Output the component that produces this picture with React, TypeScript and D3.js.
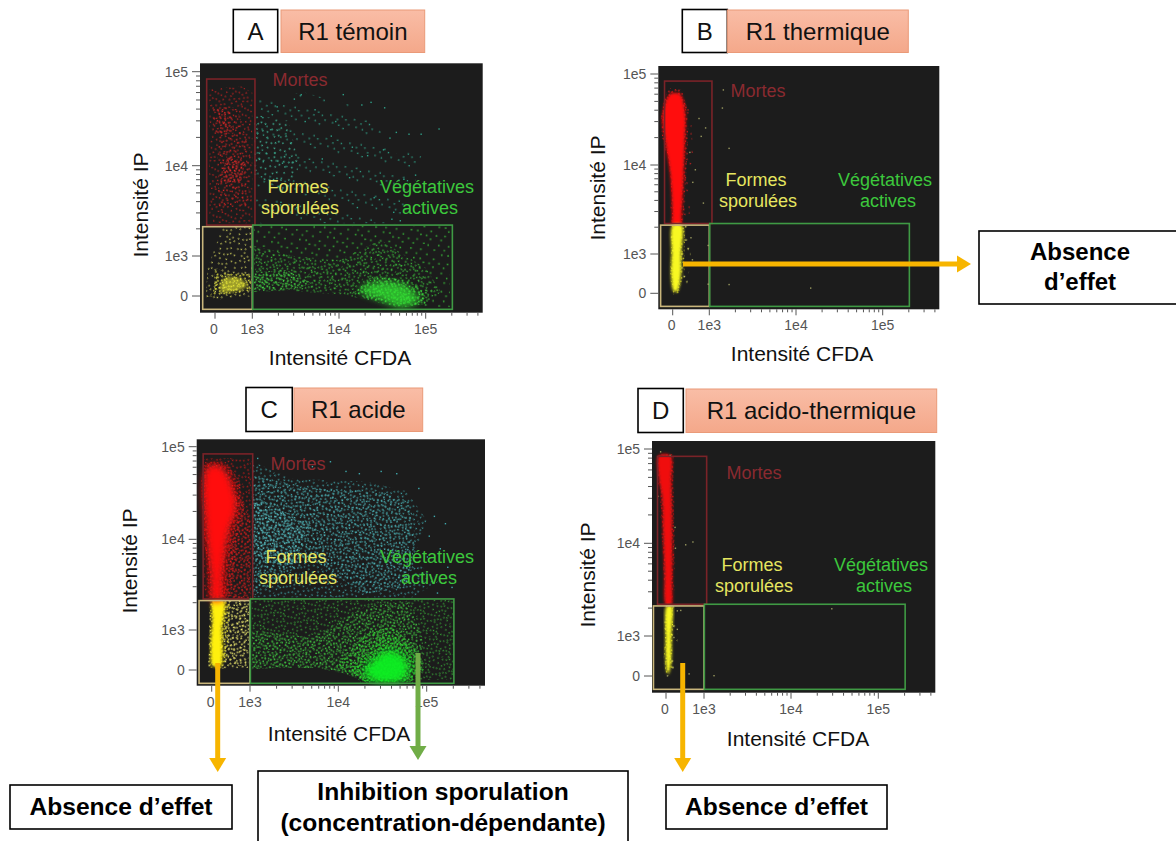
import React from "react";
import * as d3 from "d3";

type P = [number, number];
type Region = { pts: P[]; color: string; n: number; solid?: boolean; op?: number; wide?: boolean };

const FONT = "'Liberation Sans', Arial, sans-serif";
const majorTicks = [0, 1e3, 1e4, 1e5];
const majorLabels = ["0", "1e3", "1e4", "1e5"];
const minorX = [2e3, 3e3, 4e3, 5e3, 6e3, 7e3, 8e3, 9e3, 2e4, 3e4, 4e4, 5e4, 6e4, 7e4, 8e4, 9e4, 2e5, 3e5, 4e5];
const minorY = [2e3, 3e3, 4e3, 5e3, 6e3, 7e3, 8e3, 9e3, 2e4, 3e4, 4e4, 5e4, 6e4, 7e4, 8e4, 9e4];

// Gates, in data units [CFDA, IP]
const gateMortes: P[] = [[-223, 2200], [1073, 83600]];
const gateFormes: P[] = [[-330, -333], [1000, 2110]];
const gateVegetatives: P[] = [[1010, -333], [203000, 2200]];

// Speck layout of one stipple tile: texture only
const SPECKS: P[] = [
  [3, 5], [17, 2], [29, 7], [36, 1], [9, 12], [22, 14], [33, 16], [1, 20], [14, 23], [27, 21],
  [38, 26], [6, 31], [19, 33], [31, 35], [11, 38], [25, 29], [35, 9], [8, 26], [21, 7], [2, 36],
  [13, 8], [28, 13], [37, 20], [5, 16], [17, 18], [30, 27], [24, 37], [16, 29], [39, 34], [10, 3],
  [24, 3], [33, 23], [4, 25], [19, 12], [12, 33], [27, 33], [36, 38], [0, 10], [15, 36], [31, 4],
  [7, 21], [22, 25], [34, 31], [11, 17], [26, 9], [38, 13], [3, 29], [18, 39], [29, 18], [14, 13],
  [6, 8], [20, 22], [32, 11], [9, 35], [24, 19], [37, 6], [1, 33], [16, 5], [28, 38], [12, 27],
];

// Panel A: density regions
const regionsA: Region[] = [
  { pts: [[1100, 2300], [1100, 55000], [4000, 60000], [20000, 40000], [50000, 12000], [100000, 20000], [70000, 5000], [60000, 2300]], color: "#2fa88c", n: 8 },
  { pts: [[1050, 8000], [1050, 35000], [2600, 30000], [3500, 10000], [2500, 5000]], color: "#40bc9c", n: 20 },
  { pts: [[1050, 2150], [190000, 2150], [190000, -280], [90000, -280], [25000, 0], [8000, 100], [1050, 100]], color: "#35ac35", n: 16 },
  { pts: [[1050, 150], [1050, 1300], [3000, 1000], [10000, 900], [30000, 1500], [100000, 700], [150000, 100], [90000, -250], [25000, -100], [8000, 50], [3000, 130]], color: "#3cc03c", n: 34 },
  { pts: [[1050, 100], [1050, 600], [2500, 650], [5000, 300], [2500, 150]], color: "#44dc44", n: 55 },
  { pts: [[15000, 100], [25000, 500], [60000, 400], [110000, 50], [100000, -200], [50000, -290], [22000, -100]], color: "#40e840", n: 60 },
  { pts: [[17000, 150], [28000, 350], [60000, 250], [85000, -100], [55000, -290], [28000, -80]], color: "#30e430", n: 0, solid: true, op: 0.75, wide: true },
  { pts: [[-250, -100], [-200, 700], [200, 2100], [1000, 2100], [1000, 0], [300, -100]], color: "#dcdc60", n: 22 },
  { pts: [[-20, 150], [-20, 650], [60, 650], [70, 150]], color: "#f0f040", n: 60 },
  { pts: [[-50, 100], [50, 700], [300, 560], [1000, 560], [950, 130], [350, 50], [-180, -20]], color: "#ecec40", n: 60 },
  { pts: [[150, 130], [220, 420], [650, 450], [850, 250], [500, 110]], color: "#f0f030", n: 0, solid: true, op: 0.6 },
  { pts: [[-150, 2300], [1000, 2300], [1000, 60000], [700, 70000], [-150, 65000]], color: "#c82020", n: 28 },
  { pts: [[100, 3500], [900, 3500], [950, 14000], [600, 40000], [50, 40000]], color: "#dc2424", n: 28 },
  { pts: [[-60, 22000], [500, 22000], [500, 42000], [-60, 42000]], color: "#d82424", n: 28 },
  { pts: [[150, 6500], [700, 6500], [800, 11000], [300, 12500]], color: "#ea2a2a", n: 60 },
];
const sparseA: P[] = [
  [3600, 58000], [11000, 58000], [3000, 52000], [1900, 43000], [5200, 40000], [18000, 45000], [23000, 48000], [33000, 42000],
  [1300, 33000], [4000, 30000], [9000, 30000], [45000, 23000], [63000, 22000], [87000, 22000], [140000, 25000], [38000, 20000],
  [32000, 15000], [21000, 13000], [14000, 16000], [8000, 21000], [6300, 12000], [2100, 4000], [3200, 3500], [16000, 3500],
  [25000, 4500], [42000, 3100], [75000, 8000], [55000, 7200], [40000, 2600], [50000, 2500], [13000, 7500], [7000, 5200],
];

// Panel B
const regionsB: Region[] = [
  { pts: [[-300, 22000], [-200, 55000], [100, 72000], [500, 40000], [560, 12000], [450, 2300], [-40, 2300], [-130, 9000]], color: "#c02020", n: 10 },
  { pts: [[-130, 70000], [240, 68000], [430, 38000], [410, 15000], [340, 5000], [270, 2200], [-30, 2200], [-50, 6000], [-120, 12000], [-290, 20000], [-320, 38000]], color: "#f01818", n: 55 },
  { pts: [[-70, 60000], [200, 60000], [340, 38000], [330, 18000], [300, 8000], [245, 2800], [220, 2150], [-10, 2150], [-10, 2800], [-70, 8000], [-200, 18000], [-280, 35000]], color: "#ff0808", n: 0, solid: true },
  { pts: [[-60, 2100], [520, 2100], [480, 800], [400, 200], [100, -30], [-60, 200]], color: "#d8d860", n: 10 },
  { pts: [[-30, 2100], [330, 2100], [320, 600], [180, 0], [20, -30], [-70, 400]], color: "#f4f428", n: 55 },
  { pts: [[0, 2100], [250, 2100], [230, 1000], [230, 500], [120, 50], [30, 50], [-40, 400], [-30, 1000]], color: "#f8f820", n: 0, solid: true },
];
const sparseB: P[] = [
  [1426, 68000], [1390, 43000], [1660, 15500], [1660, 240], [14500, 150], [950, 1270], [950, 250], [480, 1550], [520, 870],
  [880, 26000], [760, 21000], [600, 9000], [820, 3800], [530, 6500], [450, 14000], [700, 33000],
];

// Panel C
const regionsC: Region[] = [
  { pts: [[1050, 2300], [1050, 70000], [3000, 45000], [20000, 42000], [60000, 33000], [100000, 16000], [70000, 6000], [140000, 3500], [70000, 2300]], color: "#3fa8ac", n: 30 },
  { pts: [[1050, 2300], [1050, 48000], [6000, 35000], [30000, 33000], [65000, 25000], [75000, 10000], [60000, 3000], [20000, 2500], [5000, 6000]], color: "#4fb8bc", n: 40 },
  { pts: [[1050, 6000], [1050, 30000], [5000, 14000], [3000, 5000]], color: "#5cc8cc", n: 40 },
  { pts: [[1050, 2150], [200000, 2150], [200000, -250], [100000, -250], [20000, -280], [12000, -100], [6000, 50], [2000, 50], [1050, 20]], color: "#37a837", n: 36 },
  { pts: [[1050, 20], [1050, 1000], [5000, 800], [20000, 1800], [60000, 2100], [90000, 800], [90000, 0], [60000, -280], [20000, -280], [12000, -100], [6000, 50], [2000, 50]], color: "#40c840", n: 50 },
  { pts: [[9000, 60], [20000, 900], [40000, 1100], [80000, 500], [95000, 0], [70000, -280], [20000, -280], [12000, -50]], color: "#30e030", n: 60 },
  { pts: [[14000, 0], [22000, 500], [36000, 900], [62000, 650], [85000, 50], [70000, -320], [18000, -320]], color: "#20e828", n: 60 },
  { pts: [[20000, 0], [26000, 280], [36000, 480], [52000, 360], [62000, 50], [52000, -260], [24000, -260]], color: "#0cf020", n: 0, solid: true, op: 0.95, wide: true },
  { pts: [[-50, 2100], [1000, 2100], [950, 50], [100, 30], [-100, 50]], color: "#e4e070", n: 50 },
  { pts: [[100, 2100], [950, 2100], [900, 100], [300, 100]], color: "#ece868", n: 30 },
  { pts: [[-30, 2100], [480, 2100], [430, 900], [400, 300], [250, 40], [-60, 60], [-60, 800]], color: "#f8ee20", n: 60 },
  { pts: [[20, 2100], [320, 2100], [260, 1000], [280, 400], [230, 100], [30, 100], [-20, 600], [20, 1300]], color: "#fff010", n: 0, solid: true },
  { pts: [[-200, 2200], [1020, 2200], [1020, 75000], [-200, 75000]], color: "#b01818", n: 40 },
  { pts: [[200, 2200], [1020, 2200], [1020, 16000], [700, 30000], [200, 30000]], color: "#c81c1c", n: 60 },
  { pts: [[-180, 68000], [400, 68000], [750, 40000], [850, 20000], [700, 10000], [600, 5000], [450, 2150], [-50, 2150], [-120, 5000], [-210, 12000], [-260, 25000], [-280, 42000]], color: "#f01818", n: 60 },
  { pts: [[-100, 62000], [250, 62000], [550, 38000], [650, 22000], [450, 12000], [360, 7000], [300, 4000], [260, 2150], [0, 2150], [-40, 4000], [-130, 9000], [-200, 20000], [-230, 38000]], color: "#ff1010", n: 0, solid: true, wide: true },
];
const sparseC: P[] = [
  [1200, 76000], [2700, 72000], [8000, 70000], [5000, 62000], [30000, 55000], [45000, 52000], [120000, 18000], [105000, 11000], [160000, 15000],
  [140000, 8000], [170000, 5000], [190000, 3000], [130000, 2600], [100000, 6500], [2000, 60000], [17000, 52000], [12000, 55000], [80000, 36000],
];

// Panel D
const regionsD: Region[] = [
  { pts: [[-210, 84000], [200, 84000], [220, 30000], [240, 6000], [210, 2300], [-30, 2300], [-110, 10000], [-210, 40000]], color: "#a01818", n: 22 },
  { pts: [[-210, 88000], [170, 88000], [200, 40000], [210, 10000], [190, 3000], [160, 2150], [-20, 2150], [-70, 6000], [-120, 18000], [-140, 35000], [-220, 55000]], color: "#e81414", n: 60 },
  { pts: [[-190, 85000], [120, 85000], [140, 45000], [160, 15000], [160, 4000], [130, 2150], [0, 2150], [-40, 5000], [-80, 15000], [-100, 30000], [-190, 50000]], color: "#f01010", n: 0, solid: true },
  { pts: [[-30, 2100], [280, 2100], [300, 800], [230, 200], [60, 0], [-60, 300]], color: "#d8d860", n: 8 },
  { pts: [[-10, 2100], [190, 2100], [180, 900], [170, 250], [60, 0], [-10, 60], [-50, 500]], color: "#f0f020", n: 60 },
  { pts: [[15, 2100], [155, 2100], [145, 1000], [130, 300], [60, 50], [25, 110], [-10, 500], [-10, 1000]], color: "#f8f820", n: 0, solid: true },
];
const sparseD: P[] = [
  [-160, 95000], [90, 87000], [500, 9800], [690, 10500], [280, 1900], [370, 1920], [280, 1200], [190, 980], [590, 70], [1280, 25], [28800, 2000],
  [20, 20], [-230, 32000], [220, 15000], [230, 9000],
];

// Positions, scale anchors and labels of each panel
const panels = [
  { letter: "A", title: "R1 témoin", regions: regionsA, sparse: sparseA, sparseColor: "#2fa088",
    plot: [200, 63.3, 482.7, 312.7], xs: [215, 252.3, 339, 425.7], ys: [296, 256, 165.7, 71.7],
    box: [233.3, 9.5, 277.7, 52.5], head: [281, 424.7, 10, 52.5],
    mortes: [300, 86], formes: [298, 193], sporulees: [300, 214], veg: [427, 193], actives: [430, 214],
    xl: [340, 365], yl: [148, 205] },
  { letter: "B", title: "R1 thermique", regions: regionsB, sparse: sparseB, sparseColor: "#9a9a60",
    plot: [658.3, 66, 939.3, 309.3], xs: [672.7, 709.3, 796, 882.7], ys: [293.3, 254, 165, 74],
    box: [682.3, 9.5, 727.3, 52.5], head: [727.3, 908.3, 10, 52.5],
    mortes: [758, 97], formes: [756, 186], sporulees: [758, 207], veg: [885, 186], actives: [888, 207],
    xl: [802, 361], yl: [605, 188] },
  { letter: "C", title: "R1 acide", regions: regionsC, sparse: sparseC, sparseColor: "#3fa8ac",
    plot: [196.7, 439.3, 485, 685.7], xs: [211.7, 250, 338.3, 426.7], ys: [670, 630, 539.3, 446.7],
    box: [246, 387.5, 292.3, 431.5], head: [294, 422.7, 388, 431.5],
    mortes: [298, 470], formes: [296, 563], sporulees: [298, 584], veg: [427, 563], actives: [429, 584],
    xl: [339, 741], yl: [137, 561] },
  { letter: "D", title: "R1 acido-thermique", regions: regionsD, sparse: sparseD, sparseColor: "#9a9a60",
    plot: [652, 441, 935.3, 692.7], xs: [666, 704, 791, 878.3], ys: [676, 636, 543.3, 449],
    box: [638, 388.5, 683.3, 432.5], head: [686, 936.7, 389, 432.5],
    mortes: [754, 479], formes: [752, 571], sporulees: [754, 592], veg: [881, 571], actives: [884, 592],
    xl: [798, 746], yl: [595, 575] },
];

const biex = (v: number) => (v < 1000 ? v / 1000 : 1 + Math.log10(v / 1000));

function Arrow({ x1, y1, x2, y2, color, w = 5, hw = 8.5, hl = 14 }: any) {
  const a = Math.atan2(y2 - y1, x2 - x1);
  const ux = Math.cos(a), uy = Math.sin(a);
  const bx = x2 - ux * hl, by = y2 - uy * hl;
  return (
    <g>
      <line x1={x1} y1={y1} x2={bx} y2={by} stroke={color} strokeWidth={w} />
      <polygon points={`${x2},${y2} ${bx - uy * hw},${by + ux * hw} ${bx + uy * hw},${by - ux * hw}`} fill={color} />
    </g>
  );
}

function Panel({ p, idx }: { p: (typeof panels)[number]; idx: number }) {
  const [l, t, r, b] = p.plot;
  const sx = d3.scaleLinear().domain(majorTicks.map(biex)).range(p.xs);
  const sy = d3.scaleLinear().domain(majorTicks.map(biex)).range(p.ys);
  const X = (v: number) => sx(biex(v));
  const Y = (v: number) => sy(biex(v));
  const straight = d3.line<P>().x((d) => X(d[0])).y((d) => Y(d[1])).curve(d3.curveLinearClosed);
  const smooth = d3.line<P>().x((d) => X(d[0])).y((d) => Y(d[1])).curve(d3.curveCatmullRomClosed.alpha(0.5));
  const gate = (g: P[], c: string) => (
    <rect x={X(g[0][0])} y={Y(g[1][1])} width={X(g[1][0]) - X(g[0][0])} height={Y(g[0][1]) - Y(g[1][1])} fill="none" stroke={c} strokeWidth={1.6} />
  );
  const fs = 18;
  const sc = 0.6;
  return (
    <g fontFamily={FONT}>
      <defs>
        <clipPath id={`clip${idx}`}><rect x={l} y={t} width={r - l} height={b - t} /></clipPath>
        {p.regions.filter((g) => !g.solid).map((g, i) => (
          <pattern key={i} id={`st${idx}-${i}`} width={40} height={40} patternUnits="userSpaceOnUse" patternTransform={`rotate(${(i * 37 + idx * 13 + 11) % 90}) scale(${sc + (i % 3) * 0.05})`}>
            {SPECKS.slice(0, g.n).map((s, k) => (
              <rect key={k} x={s[0]} y={s[1]} width={2.2} height={2.2} fill={g.color} />
            ))}
          </pattern>
        ))}
      </defs>
      <rect x={l} y={t} width={r - l} height={b - t} fill="#1c1c1c" />
      <g clipPath={`url(#clip${idx})`}>
        {(() => {
          let s = 0;
          return p.regions.map((g, i) => {
            if (g.solid) return <path key={i} d={smooth(g.pts)!} fill={g.color} opacity={g.op ?? 1} filter={g.wide ? "url(#soft4)" : "url(#soft2)"} />;
            return <path key={i} d={straight(g.pts)!} fill={`url(#st${idx}-${s++})`} />;
          });
        })()}
        {p.sparse.map((d, i) => (
          <rect key={i} x={X(d[0])} y={Y(d[1])} width={1.4} height={1.4} fill={p.sparseColor} />
        ))}
      </g>
      {gate(gateMortes, "#7a2328")}
      {gate(gateFormes, "#c9b67c")}
      {gate(gateVegetatives, "#3f9a44")}
      {/* axes */}
      {majorTicks.map((v, i) => (
        <g key={i}>
          <line x1={X(v)} x2={X(v)} y1={b} y2={b + 6} stroke="#555" />
          <text x={X(v) - (i === 0 ? 1 : 0)} y={b + 21} textAnchor="middle" fontSize={14} fill="#555">{majorLabels[i]}</text>
          <line x1={l - 8} x2={l} y1={Y(v)} y2={Y(v)} stroke="#555" />
          <text x={l - 12} y={Y(v) + 5} textAnchor="end" fontSize={14} fill="#555">{majorLabels[i]}</text>
        </g>
      ))}
      {minorX.map((v) => <line key={v} x1={X(v)} x2={X(v)} y1={b} y2={b + 3} stroke="#555" />)}
      {minorY.map((v) => <line key={v} x1={l - 4} x2={l} y1={Y(v)} y2={Y(v)} stroke="#555" />)}
      <text x={p.xl[0]} y={p.xl[1]} textAnchor="middle" fontSize={21} fill="#111">Intensité CFDA</text>
      <text transform={`translate(${p.yl[0]},${p.yl[1]}) rotate(-90)`} textAnchor="middle" fontSize={21} fill="#111">Intensité IP</text>
      {/* annotations */}
      <text x={p.mortes[0]} y={p.mortes[1]} textAnchor="middle" fontSize={fs} fill="#8a2a30">Mortes</text>
      <text x={p.formes[0]} y={p.formes[1]} textAnchor="middle" fontSize={fs} fill="#e6e660">Formes</text>
      <text x={p.sporulees[0]} y={p.sporulees[1]} textAnchor="middle" fontSize={fs} fill="#e6e660">sporulées</text>
      <text x={p.veg[0]} y={p.veg[1]} textAnchor="middle" fontSize={fs} fill="#3cc83c">Végétatives</text>
      <text x={p.actives[0]} y={p.actives[1]} textAnchor="middle" fontSize={fs} fill="#3cc83c">actives</text>
      {/* header */}
      <rect x={p.box[0]} y={p.box[1]} width={p.box[2] - p.box[0]} height={p.box[3] - p.box[1]} fill="#fff" stroke="#000" strokeWidth={1.6} />
      <text x={(p.box[0] + p.box[2]) / 2} y={(p.box[1] + p.box[3]) / 2 + 8.5} textAnchor="middle" fontSize={24} fill="#111">{p.letter}</text>
      <rect x={p.head[0]} y={p.head[2]} width={p.head[1] - p.head[0]} height={p.head[3] - p.head[2]} fill="url(#headFill)" stroke="#ea9a78" strokeWidth={1} />
      <text x={(p.head[0] + p.head[1]) / 2} y={(p.head[2] + p.head[3]) / 2 + 8.5} textAnchor="middle" fontSize={24} fill="#111">{p.title}</text>
    </g>
  );
}

function Note({ x, y, w, h, lines, cx, fs = 24.6, dy = 31, first }: any) {
  return (
    <g fontFamily={FONT}>
      <rect x={x} y={y} width={w} height={h} fill="#fff" stroke="#000" strokeWidth={1.6} />
      {lines.map((s: string, i: number) => (
        <text key={i} x={cx ?? x + w / 2} y={first + i * dy} textAnchor="middle" fontSize={fs} fontWeight="bold" fill="#000">{s}</text>
      ))}
    </g>
  );
}

export default function App() {
  const amber = "#f7b500";
  return (
    <svg width={1176} height={841} viewBox="0 0 1176 841" style={{ position: "absolute", left: 0, top: 0, display: "block", background: "#fff" }}>
      <defs>
        <linearGradient id="headFill" x1="0" y1="0" x2="0" y2="1">
          <stop offset="0" stopColor="#f9bda6" />
          <stop offset="1" stopColor="#f4a88a" />
        </linearGradient>
        <filter id="soft2" x="-20%" y="-20%" width="140%" height="140%"><feGaussianBlur stdDeviation="1.5" /></filter>
        <filter id="soft4" x="-40%" y="-40%" width="180%" height="180%"><feGaussianBlur stdDeviation="3.5" /></filter>
      </defs>
      {panels.map((p, i) => <Panel key={p.letter} p={p} idx={i} />)}
      <Arrow x1={683} y1={264} x2={971} y2={264} color={amber} />
      <Arrow x1={217.7} y1={663} x2={217.7} y2={772} color={amber} />
      <Arrow x1={418} y1={653} x2={418} y2={760} color="#70ad47" />
      <Arrow x1={682.7} y1={663} x2={682.7} y2={772} color={amber} />
      <Note x={979} y={231} w={220} h={73} cx={1080} fs={24} lines={["Absence", "d’effet"]} first={260} dy={30} />
      <Note x={10} y={785} w={222} h={44} lines={["Absence d’effet"]} first={815} />
      <Note x={258} y={771} w={370} h={90} lines={["Inhibition sporulation", "(concentration-dépendante)"]} first={800} />
      <Note x={666} y={785} w={221} h={44} lines={["Absence d’effet"]} first={815} />
    </svg>
  );
}
